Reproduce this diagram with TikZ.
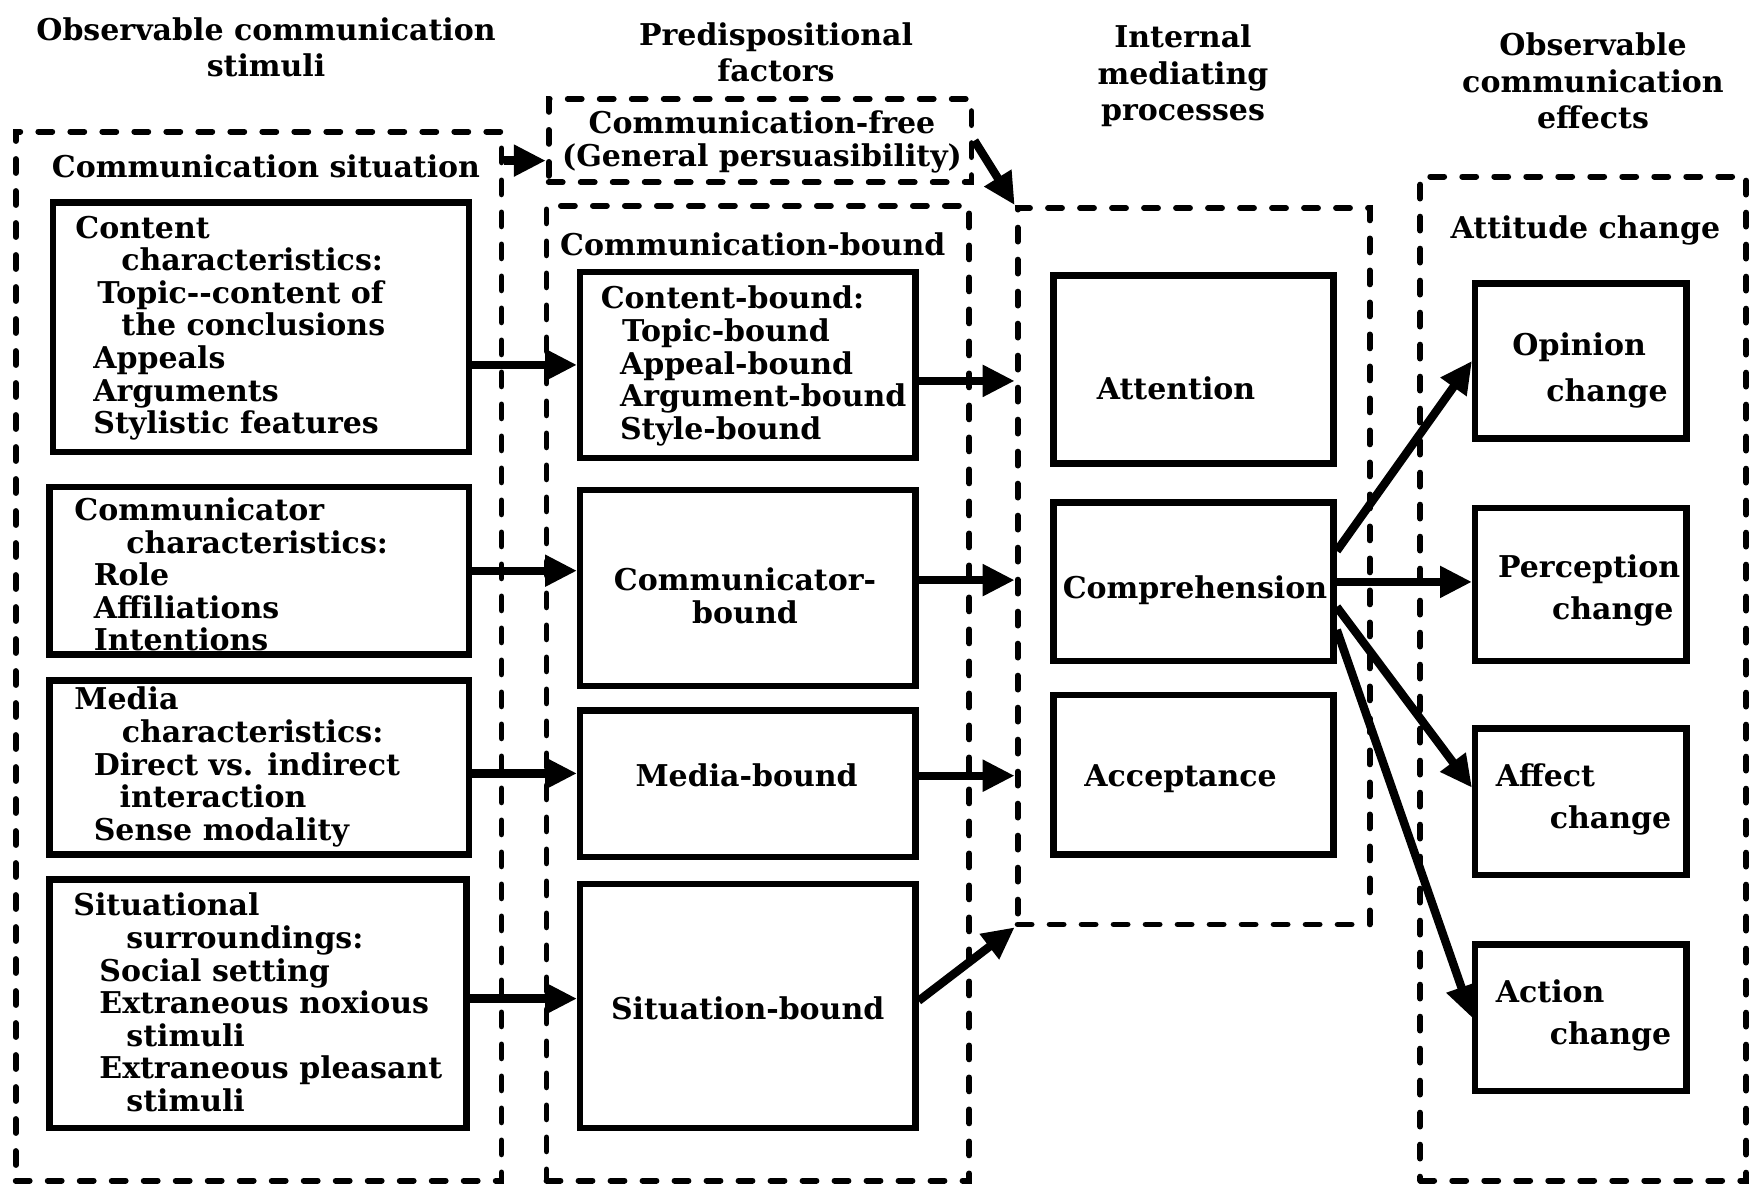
\documentclass[tikz,border=0pt]{standalone}
\usepackage{fontspec}
\setmainfont{DejaVu Serif}
\usetikzlibrary{arrows.meta}
\begin{document}
\begin{tikzpicture}[x=0.5pt,y=-0.5pt,
  every node/.style={font=\fontsize{15}{16.3}\selectfont\bfseries, inner sep=0pt},
  sbox/.style={draw, line width=3.2pt, rectangle},
  dbox/.style={draw, line width=2.9pt, dash pattern=on 7pt off 9pt, line cap=round, rectangle},
  arr/.style={line width=4.2pt, -{Triangle[length=16pt,width=15pt]}},
  txt/.style={align=left, anchor=west},
  hdr/.style={align=center, font=\fontsize{15}{18.25}\selectfont\bfseries},
  eff/.style={align=left, anchor=west, font=\fontsize{15}{21}\selectfont\bfseries}]
\fill[white] (0,0) rectangle (1763,1189);
\useasboundingbox (0,0) rectangle (1763,1189);

% headers
\node[hdr] (h1) at (266,47.5) {Observable communication\\stimuli};
\node[hdr] (h2) at (776,52.5) {Predispositional\\factors};
\node[hdr] (h3) at (1183,76) {Internal\\mediating\\processes};
\node[hdr] (h4) at (1593,81) {Observable\\communication\\effects};

% column 1
\node[dbox, minimum width=242.9pt, minimum height=524.5pt] (sit) at (258.6,656.1) {};
\node (sitl) at (266,166.4) {Communication situation};
\node[sbox, minimum width=208pt, minimum height=124.8pt] (cbox) at (260.9,327.2) {};
\node[sbox, minimum width=209.8pt, minimum height=83.8pt] (combox) at (259.3,570.7) {};
\node[sbox, minimum width=209.8pt, minimum height=87.1pt] (mbox) at (259.3,767.4) {};
\node[sbox, minimum width=208.6pt, minimum height=124.3pt] (sbox) at (258,1003.6) {};
\node[txt] (cboxt) at (75,328) {Content\\\hspace*{23pt}characteristics:\\\hspace*{11pt}Topic-{}-content of\\\hspace*{23pt}the conclusions\\\hspace*{9pt}Appeals\\\hspace*{9pt}Arguments\\\hspace*{9pt}Stylistic features};
\node[txt] (comboxt) at (74,574.5) {Communicator\\\hspace*{26pt}characteristics:\\\hspace*{9.7pt}Role\\\hspace*{9.7pt}Affiliations\\\hspace*{9.7pt}Intentions};
\node[txt] (mboxt) at (74,767) {Media\\\hspace*{23.7pt}characteristics:\\\hspace*{9.7pt}Direct vs. indirect\\\hspace*{22.6pt}interaction\\\hspace*{9.7pt}Sense modality};
\node[txt] (sboxt) at (73,1002.5) {Situational\\\hspace*{26.5pt}surroundings:\\\hspace*{13pt}Social setting\\\hspace*{13pt}Extraneous noxious\\\hspace*{26.5pt}stimuli\\\hspace*{13pt}Extraneous pleasant\\\hspace*{26.5pt}stimuli};

% column 2
\node[dbox, minimum width=211.4pt, minimum height=41.7pt] (free) at (760.1,140.6) {};
\node[align=center] (freel) at (762,142) {Communication-free\\(General persuasibility)};
\node[dbox, minimum width=211.4pt, minimum height=487.4pt] (bnd) at (757.9,693.2) {};
\node (bndl) at (752.8,244) {Communication-bound};
\node[sbox, minimum width=167.6pt, minimum height=92.8pt] (cbnd) at (747.8,364.9) {};
\node[sbox, minimum width=167.6pt, minimum height=97.9pt] (combnd) at (747.8,588.1) {};
\node[sbox, minimum width=167.6pt, minimum height=73.1pt] (mbnd) at (747.8,783.7) {};
\node[sbox, minimum width=167.6pt, minimum height=122pt] (sbnd) at (747.8,1005.8) {};
\node[txt] (cbndt) at (600.4,366) {Content-bound:\\\hspace*{10.7pt}Topic-bound\\\hspace*{9.6pt}Appeal-bound\\\hspace*{9.6pt}Argument-bound\\\hspace*{9.6pt}Style-bound};
\node[align=center] (combndl) at (745,596) {Communicator-\\bound};
\node (mbndl) at (746.6,775.5) {Media-bound};
\node (sbndl) at (747.7,1008) {Situation-bound};

% column 3
\node[dbox, minimum width=176pt, minimum height=358.2pt] (int) at (1193.6,566.2) {};
\node[sbox, minimum width=140pt, minimum height=93.9pt] (att) at (1193.6,369.4) {};
\node[sbox, minimum width=140pt, minimum height=79.3pt] (comp) at (1193.6,581.9) {};
\node[sbox, minimum width=140pt, minimum height=79.8pt] (acc) at (1193.6,774.7) {};
\node (attl) at (1176,388) {Attention};
\node (compl) at (1195,590) {Comprehension};
\node (accl) at (1180.6,779) {Acceptance};

% column 4
\node[dbox, minimum width=163pt, minimum height=502pt] (attc) at (1583.2,678.6) {};
\node (attcl) at (1585.4,230) {Attitude change};
\node[sbox, minimum width=105.7pt, minimum height=77.6pt] (opin) at (1580.9,360.9) {};
\node[sbox, minimum width=105.7pt, minimum height=76.5pt] (perc) at (1580.9,584.7) {};
\node[sbox, minimum width=105.7pt, minimum height=73.1pt] (aff) at (1580.9,801.7) {};
\node[sbox, minimum width=105.7pt, minimum height=73.1pt] (act) at (1580.9,1017.6) {};
\node[eff] (opl) at (1512,370) {Opinion\\[2pt]\hspace*{17pt}change};
\node[eff] (perl) at (1497.7,590) {Perception\\\hspace*{27pt}change};
\node[eff] (affl) at (1495.5,799) {Affect\\\hspace*{27pt}change};
\node[eff] (actl) at (1495.5,1015) {Action\\\hspace*{27pt}change};

% arrows
\coordinate (f1) at ([yshift=-10pt]free.west);
\draw[arr] (f1 -| sit.east) -- (f1);
\draw[arr] (free.east) -- (int.north west);
\draw[arr] (cbox.east |- cbnd.west) -- (cbnd.west);
\coordinate (c2) at ([yshift=-8pt]cbnd.east);
\draw[arr] (c2) -- (c2 -| int.west);
\draw[arr] (combox.east) -- (combox.east -| combnd.west);
\coordinate (c4) at ([yshift=4pt]combnd.east);
\draw[arr] (c4) -- (c4 -| int.west);
\coordinate (c5) at ([yshift=-3pt]mbox.east);
\draw[arr] (c5) -- (c5 -| mbnd.west);
\coordinate (c6) at ([yshift=4pt]mbnd.east);
\draw[arr] (c6) -- (c6 -| int.west);
\coordinate (c7) at ([yshift=2.5pt]sbox.east);
\draw[arr] (c7) -- (c7 -| sbnd.west);
\draw[arr] ([yshift=2.5pt]sbnd.east) -- (int.south west);
\draw[arr] ([yshift=15.5pt]comp.east) -- (opin.west);
\draw[arr] (comp.east) -- (comp.east -| perc.west);
\draw[arr] ([yshift=-12.5pt]comp.east) -- ([yshift=7pt]aff.west);
\draw[arr] ([yshift=-24pt]comp.east) -- (act.west);
\end{tikzpicture}
\end{document}
